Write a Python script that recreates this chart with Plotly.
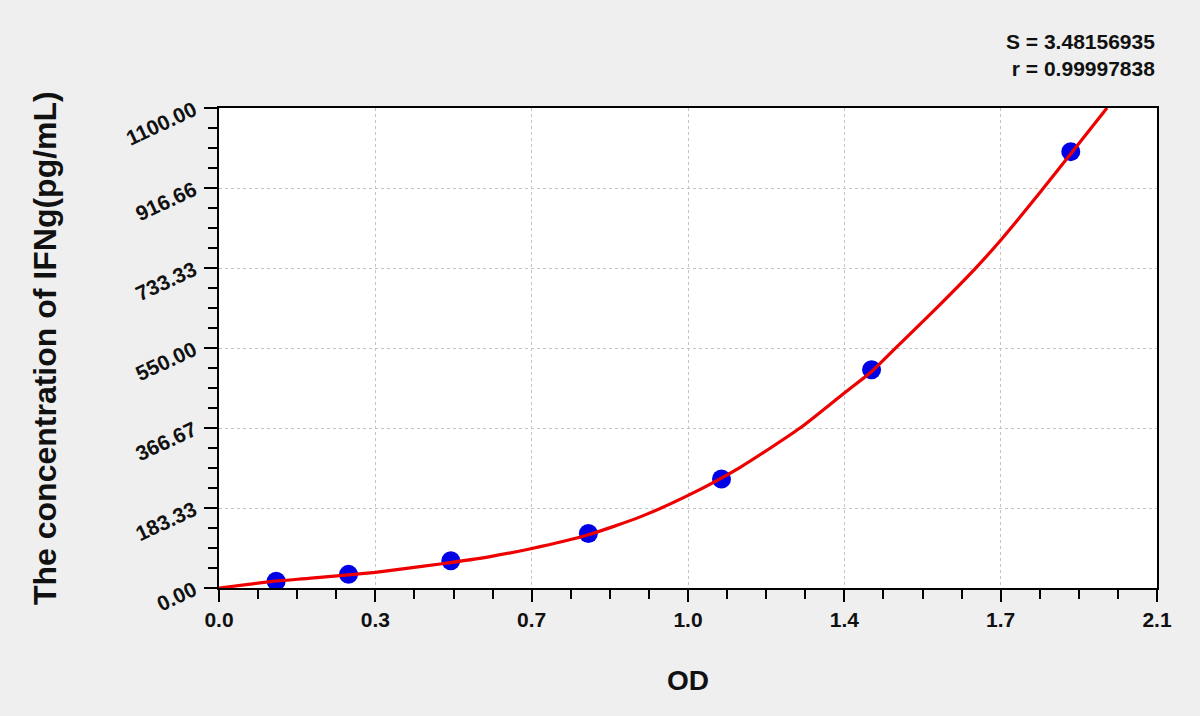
import plotly.graph_objects as go

# standards (OD vs concentration)
od_points = [0.128, 0.290, 0.519, 0.827, 1.125, 1.461, 1.907]
conc_points = [15.6, 31.25, 62.5, 125, 250, 500, 1000]

# fitted curve
curve_od = [0.0, 0.07, 0.128, 0.20, 0.29, 0.35, 0.42, 0.495, 0.607, 0.698,
            0.827, 0.943, 1.048, 1.166, 1.30, 1.40, 1.46, 1.51, 1.60, 1.693,
            1.75, 1.833, 1.907, 1.988]
curve_conc = [0, 9, 16, 22, 30, 36, 45, 55, 72, 90,
              122, 163, 211, 276, 366, 447, 495, 545, 635, 732,
              797, 900, 995, 1100]

x_tickvals = [0.0, 0.35, 0.7, 1.05, 1.4, 1.75, 2.1]
x_ticktext = ['0.0', '0.3', '0.7', '1.0', '1.4', '1.7', '2.1']
y_tickvals = [0, 183.333, 366.667, 550, 733.333, 916.667, 1100]
y_ticktext = ['0.00', '183.33', '366.67', '550.00', '733.33', '916.66', '1100.00']

fit_s = 'S = 3.48156935'
fit_r = 'r = 0.99997838'

fig = go.Figure()

fig.add_trace(go.Scatter(
    x=od_points, y=conc_points,
    mode='markers',
    marker=dict(color='#0000e6', size=19, line=dict(width=0)),
    name='Standards'
))

fig.add_trace(go.Scatter(
    x=curve_od, y=curve_conc,
    mode='lines',
    line=dict(color='#ee0000', width=3.2, shape='spline', smoothing=0.6),
    name='Fit'
))

FONT = 'Liberation Sans, Arial'
tick_font = dict(family=FONT, size=21, color='#111111', weight='bold')

fig.update_layout(
    width=1200, height=716,
    margin=dict(l=219, r=43, t=108, b=128),
    paper_bgcolor='#efefef',
    plot_bgcolor='white',
    showlegend=False,
    font=dict(family=FONT, color='#111111'),
    xaxis=dict(
        range=[0, 2.1],
        tickmode='array', tickvals=x_tickvals, ticktext=x_ticktext,
        tickfont=tick_font,
        ticks='outside', ticklen=12, tickwidth=2, tickcolor='black',
        minor=dict(tickmode='linear', tick0=0, dtick=0.0875,
                   ticks='outside', ticklen=9, tickwidth=2, tickcolor='black',
                   showgrid=False),
        showline=True, linecolor='black', linewidth=2, mirror=True,
        showgrid=True, gridcolor='#c4c4c4', griddash='dot', gridwidth=1,
        zeroline=False,
    ),
    yaxis=dict(
        range=[0, 1100],
        tickmode='array', tickvals=y_tickvals, ticktext=y_ticktext,
        tickfont=tick_font, tickangle=-25, ticklabelstandoff=6,
        ticks='outside', ticklen=13, tickwidth=2, tickcolor='black',
        minor=dict(tickmode='linear', tick0=0, dtick=1100 / 24,
                   ticks='outside', ticklen=9, tickwidth=2, tickcolor='black',
                   showgrid=False),
        showline=True, linecolor='black', linewidth=2, mirror=True,
        showgrid=True, gridcolor='#c4c4c4', griddash='dot', gridwidth=1,
        zeroline=False,
    ),
    annotations=[
        dict(text=f'{fit_s}<br>{fit_r}',
             xref='paper', yref='paper', x=1.0, y=1.111,
             xanchor='right', yanchor='middle', align='right',
             showarrow=False,
             font=dict(size=21, color='#111111', weight='bold')),
        dict(text='OD', xref='paper', yref='paper', x=0.5, y=-0.192,
             xanchor='center', yanchor='middle', showarrow=False,
             font=dict(size=28, color='#111111', weight='bold')),
        dict(text='The concentration of IFNg(pg/mL)', textangle=-90,
             xref='paper', yref='paper', x=-0.1855, y=0.5,
             xanchor='center', yanchor='middle', showarrow=False,
             font=dict(size=32, color='#111111', weight='bold')),
    ],
)

fig.write_html("out.html", config={'displayModeBar': False},
               post_script="document.body.style.margin='0';")
